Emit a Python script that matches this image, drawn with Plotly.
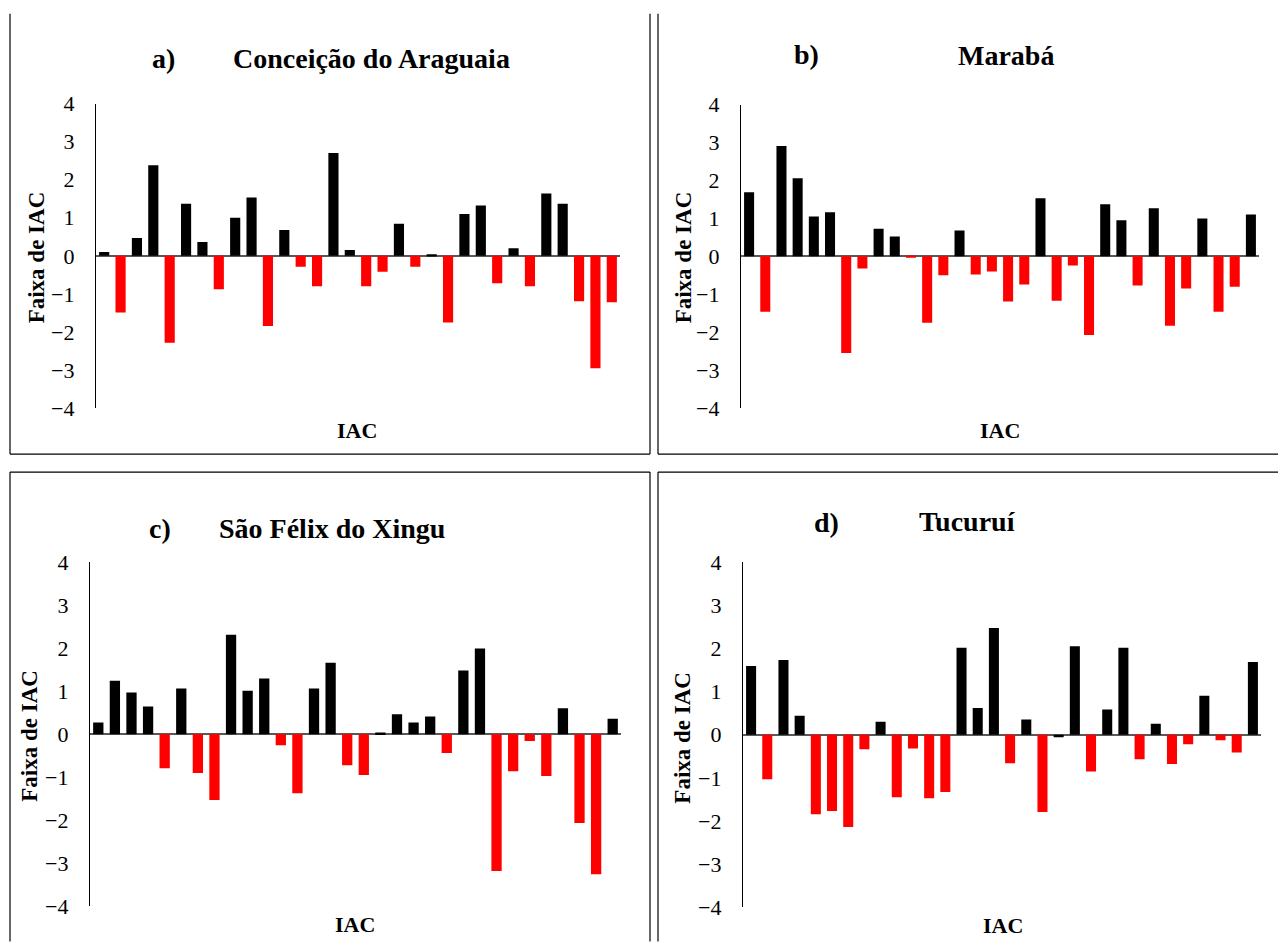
import plotly.graph_objects as go

W, H = 1278, 942

years = list(range(1, 33))

conceicao = [0.10, -1.49, 0.47, 2.38, -2.28, 1.37, 0.36, -0.88, 1.00, 1.53, -1.84, 0.68, -0.29, -0.80,
             2.70, 0.15, -0.80, -0.42, 0.84, -0.29, 0.04, -1.75, 1.10, 1.32, -0.72, 0.20, -0.80, 1.64,
             1.37, -1.19, -2.95, -1.22]
maraba = [1.69, -1.46, 2.91, 2.06, 1.05, 1.16, -2.55, -0.32, 0.73, 0.52, -0.04, -1.75, -0.50, 0.68,
          -0.48, -0.40, -1.19, -0.74, 1.53, -1.17, -0.24, -2.07, 1.37, 0.95, -0.77, 1.27, -1.83, -0.85,
          1.00, -1.46, -0.80, 1.10]
sao_felix = [0.27, 1.24, 0.97, 0.64, -0.79, 1.06, -0.90, -1.53, 2.31, 1.01, 1.29, -0.26, -1.37, 1.06,
             1.66, -0.72, -0.95, 0.04, 0.46, 0.27, 0.41, -0.44, 1.48, 1.99, -3.18, -0.86, -0.16, -0.97,
             0.60, -2.06, -3.25, 0.36]
tucurui = [1.59, -1.03, 1.73, 0.44, -1.84, -1.77, -2.14, -0.34, 0.30, -1.45, -0.32, -1.47, -1.33, 2.01,
           0.62, 2.47, -0.66, 0.35, -1.79, -0.06, 2.05, -0.85, 0.58, 2.01, -0.57, 0.25, -0.68, -0.22,
           0.90, -0.13, -0.41, 1.68]

letters = ["a)", "b)", "c)", "d)"]
stations = ["Conceição do Araguaia", "Marabá", "São Félix do Xingu", "Tucuruí"]
series = [conceicao, maraba, sao_felix, tucurui]
# bars drawn black although slightly negative (as in the original)
black_negative_idx = [[], [], [], [19]]
y_ticks = [-4, -3, -2, -1, 0, 1, 2, 3, 4]

# pixel layout of each panel: plot area (x0, x1, ytop, ybottom)
areas = [(96, 620, 103, 408), (741, 1259, 104, 408), (90, 621, 562, 907), (743, 1261, 562, 908)]
letter_pos = [(163, 58), (806, 54), (160, 529), (826, 523)]
name_pos = [(371, 58), (1006, 55), (332, 529), (967, 522)]
ytitle_pos = [(36, 257), (683, 257), (30, 736), (683, 738)]
xtitle_pos = [(357, 430), (1000, 430), (355, 925), (1003, 926)]


def fx(x):
    return x / W


def fy(y):
    # vertical calibration of the capture
    ys = (y - 11.33) / 0.9748
    return 1 - ys / H


fig = go.Figure()
SERIF = "Liberation Serif, Times New Roman, serif"

for i, vals in enumerate(series):
    n = "" if i == 0 else str(i + 1)
    colors = ["#000000" if (v >= 0 or k in black_negative_idx[i]) else "#FF0000" for k, v in enumerate(vals)]
    fig.add_trace(go.Bar(x=years, y=vals, marker=dict(color=colors, line=dict(width=0)),
                         xaxis="x" + n, yaxis="y" + n, showlegend=False))
    x0, x1, yt, yb = areas[i]
    fig.update_layout(**{
        "xaxis" + n: dict(domain=[fx(x0), fx(x1)], range=[0.5, 32.5], showticklabels=False,
                          showgrid=False, zeroline=False, showline=False, ticks="",
                          anchor="y" + n),
        "yaxis" + n: dict(domain=[fy(yb), fy(yt)], range=[-4, 4], tickvals=y_ticks,
                          showgrid=False, zeroline=True, zerolinecolor="#595959", zerolinewidth=1.5,
                          showline=True, linecolor="#000000", linewidth=1.2, ticks="",
                          ticklabelstandoff=16,
                          tickfont=dict(family=SERIF, size=22, color="#000000"),
                          anchor="x" + n),
    })
    fig.add_annotation(x=fx(letter_pos[i][0]), y=fy(letter_pos[i][1]), xref="paper", yref="paper",
                       text="<b>" + letters[i] + "</b>", showarrow=False, xanchor="center", yanchor="middle",
                       font=dict(family=SERIF, size=28, color="#000000"))
    fig.add_annotation(x=fx(name_pos[i][0]), y=fy(name_pos[i][1]), xref="paper", yref="paper",
                       text="<b>" + stations[i] + "</b>", showarrow=False, xanchor="center", yanchor="middle",
                       font=dict(family=SERIF, size=28, color="#000000"))
    fig.add_annotation(x=fx(ytitle_pos[i][0]), y=fy(ytitle_pos[i][1]), xref="paper", yref="paper",
                       text="<b>Faixa de IAC</b>", showarrow=False, textangle=-90, xanchor="center",
                       yanchor="middle", font=dict(family=SERIF, size=23, color="#000000"))
    fig.add_annotation(x=fx(xtitle_pos[i][0]), y=fy(xtitle_pos[i][1]), xref="paper", yref="paper",
                       text="<b>IAC</b>", showarrow=False, xanchor="center", yanchor="middle",
                       font=dict(family=SERIF, size=22, color="#000000"))

# panel frames
frame_lines = [
    (10, 13, 10, 454), (10, 454, 650, 454), (650, 13, 650, 454),
    (658, 13, 658, 454), (658, 454, 1278, 454),
    (10, 472, 650, 472), (10, 472, 10, 942), (650, 472, 650, 942),
    (658, 472, 1278, 472), (658, 472, 658, 942),
]
for (ax, ay, bx, by) in frame_lines:
    fig.add_shape(type="line", xref="paper", yref="paper", x0=fx(ax), y0=fy(ay), x1=fx(bx), y1=fy(by),
                  line=dict(color="#000000", width=1.2))

fig.update_layout(width=W, height=H, margin=dict(l=0, r=0, t=0, b=0), bargap=0.38,
                  paper_bgcolor="#FFFFFF", plot_bgcolor="#FFFFFF")

fig.write_html("out.html", config={"displayModeBar": False},
               post_script="document.body.style.margin='0';document.body.style.overflow='hidden';")
